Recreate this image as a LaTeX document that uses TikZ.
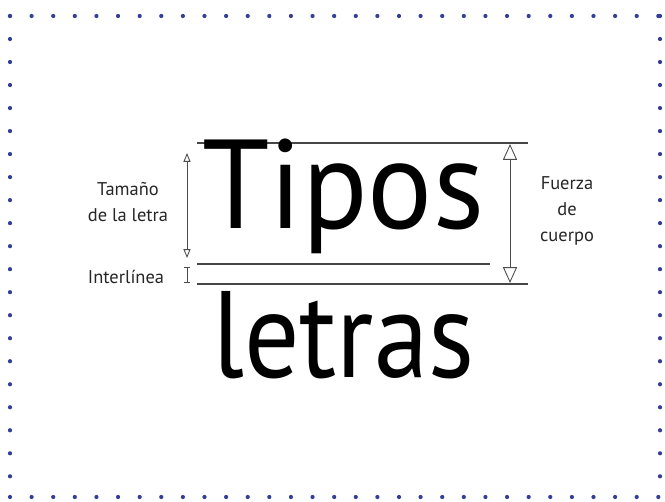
\documentclass[tikz,border=0pt]{standalone}
\usepackage{fontspec}
\setmainfont{PT Sans}
\usepackage{tikz}
\usetikzlibrary{arrows.meta,positioning}
\definecolor{dotblue}{RGB}{52,62,150}
\definecolor{rulegray}{RGB}{70,70,70}

\begin{document}
\begin{tikzpicture}[x=0.02cm, y=-0.02cm,
      big/.style={inner sep=0pt, anchor=base west},
      label/.style={inner sep=0pt, align=center, font=\fontsize{10.5}{14.8}\selectfont, text=black!85},
      guide/.style={draw=rulegray, line width=0.6pt},
      frame/.style={dotblue, line width=2.4pt, line cap=round},
      dim/.style={draw=black!70, line width=0.5pt, {Triangle[open, length=5pt, width=4pt]}-{Triangle[open, length=5pt, width=4pt]}},
      dimbig/.style={draw=black!70, line width=0.5pt, {Triangle[open, length=9pt, width=8pt]}-{Triangle[open, length=9pt, width=8pt]}},
      dimsmall/.style={draw=black!70, line width=0.5pt, {Bar[width=3pt]}-{Bar[width=3pt]}}
    ]
      \useasboundingbox (0,0) rectangle (665,502);
      % dotted frame
      \coordinate (NW) at (10,16);
      \coordinate (NE) at (660,16);
      \coordinate (SW) at (10,497);
      \coordinate (SE) at (660,497);
      \draw[frame, dash pattern=on 0pt off 12.3pt] (NW) -- (NE);
      \draw[frame, dash pattern=on 0pt off 12.3pt] (SW) -- (SE);
      \draw[frame, dash pattern=on 0pt off 13.1pt] (NW) -- (SW);
      \draw[frame, dash pattern=on 0pt off 13.1pt] (NE) -- (SE);

      % guide lines
      \coordinate (topL) at (197,143);
      \coordinate (topR) at (528,143);
      \coordinate (midL) at (197,264);
      \coordinate (midR) at (490,264);
      \coordinate (botL) at (197,284);
      \coordinate (botR) at (528,284);
      \draw[guide] (topL) -- (topR);
      \draw[guide] (midL) -- (midR);
      \draw[guide] (botL) -- (botR);

      \node[big, xscale=0.96, font=\fontsize{72}{76}\selectfont] (tipos) at (202,229) {Tipos};
      \node[big, xscale=0.89, font=\fontsize{70}{74}\selectfont] (letras) at (212,378) {letras};

      % dimension arrows
      \coordinate (sizeT) at (187,153);
      \coordinate (sizeB) at (187,258);
      \coordinate (gapT) at (187,267);
      \coordinate (gapB) at (187,283);
      \coordinate (bodyT) at (510,144);
      \coordinate (bodyB) at (510,283);
      \draw[dim] (sizeT) -- (sizeB);
      \draw[dimsmall] (gapT) -- (gapB);
      \draw[dimbig] (bodyT) -- (bodyB);

      \node[label] (tamano) at (128,202) {Tamaño\\de la letra};
      \node[label] (inter) at (126,277) {Interlínea};
      \node[label] (fuerza) at (567,211) {Fuerza\\de\\cuerpo};
    \end{tikzpicture}
\end{document}
